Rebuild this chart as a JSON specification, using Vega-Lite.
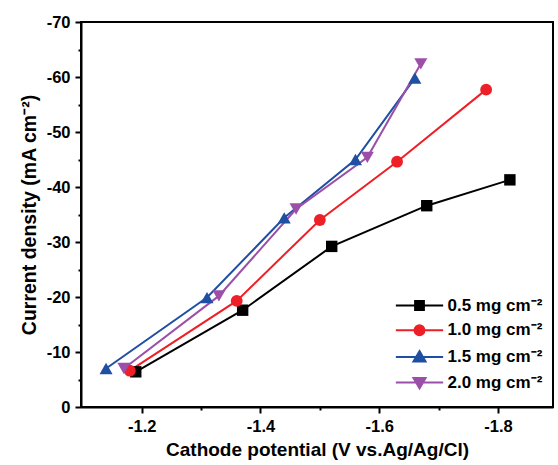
{
  "$schema": "https://vega.github.io/schema/vega-lite/v6.json",
  "width": 472,
  "height": 385,
  "autosize": {"type": "none"},
  "padding": {"left": 81, "top": 22, "right": 5, "bottom": 58},
  "background": "white",
  "config": {
    "view": {"stroke": "black", "strokeWidth": 2},
    "font": "Liberation Sans",
    "axis": {
      "grid": false,
      "domainColor": "black",
      "domainWidth": 2,
      "tickColor": "black",
      "tickWidth": 2,
      "labelColor": "black",
      "labelFont": "Liberation Sans",
      "labelFontSize": 16.5,
      "labelFontWeight": "bold",
      "titleColor": "black",
      "titleFont": "Liberation Sans",
      "titleFontSize": 19,
      "titleFontWeight": "bold"
    }
  },
  "data": {
    "values": [
      {"loading": "0.5 mg cm⁻²", "potential": -1.19, "current": -6.4},
      {"loading": "0.5 mg cm⁻²", "potential": -1.37, "current": -17.6},
      {"loading": "0.5 mg cm⁻²", "potential": -1.52, "current": -29.2},
      {"loading": "0.5 mg cm⁻²", "potential": -1.68, "current": -36.6},
      {"loading": "0.5 mg cm⁻²", "potential": -1.82, "current": -41.3},
      {"loading": "1.0 mg cm⁻²", "potential": -1.18, "current": -6.6},
      {"loading": "1.0 mg cm⁻²", "potential": -1.36, "current": -19.3},
      {"loading": "1.0 mg cm⁻²", "potential": -1.50, "current": -34.0},
      {"loading": "1.0 mg cm⁻²", "potential": -1.63, "current": -44.6},
      {"loading": "1.0 mg cm⁻²", "potential": -1.78, "current": -57.7},
      {"loading": "1.5 mg cm⁻²", "potential": -1.14, "current": -7.0},
      {"loading": "1.5 mg cm⁻²", "potential": -1.31, "current": -19.9},
      {"loading": "1.5 mg cm⁻²", "potential": -1.44, "current": -34.4},
      {"loading": "1.5 mg cm⁻²", "potential": -1.56, "current": -45.0},
      {"loading": "1.5 mg cm⁻²", "potential": -1.66, "current": -59.8},
      {"loading": "2.0 mg cm⁻²", "potential": -1.17, "current": -7.0},
      {"loading": "2.0 mg cm⁻²", "potential": -1.33, "current": -20.2},
      {"loading": "2.0 mg cm⁻²", "potential": -1.46, "current": -36.0},
      {"loading": "2.0 mg cm⁻²", "potential": -1.58, "current": -45.4},
      {"loading": "2.0 mg cm⁻²", "potential": -1.67, "current": -62.4}
    ]
  },
  "encoding": {
    "x": {
      "field": "potential",
      "type": "quantitative",
      "title": "Cathode potential (V vs.Ag/Ag/Cl)",
      "scale": {"domain": [-1.8926, -1.0978], "reverse": true, "nice": false, "zero": false},
      "axis": {
        "values": [-1.2, -1.3, -1.4, -1.5, -1.6, -1.7, -1.8],
        "labelExpr": "round(abs(datum.value)*10) % 2 === 0 ? replace(format(datum.value, '.1f'), '−', '-') : ''",
        "tickSize": {"condition": {"test": "round(abs(datum.value)*10) % 2 === 1", "value": 3}, "value": 6},
        "labelPadding": 5,
        "titlePadding": 6
      }
    },
    "y": {
      "field": "current",
      "type": "quantitative",
      "title": "Current density (mA cm⁻²)",
      "scale": {"domain": [-70, 0], "reverse": true, "nice": false, "zero": false},
      "axis": {
        "values": [0, -5, -10, -15, -20, -25, -30, -35, -40, -45, -50, -55, -60, -65, -70],
        "labelExpr": "datum.value % 10 === 0 ? replace(format(datum.value, 'd'), '−', '-') : ''",
        "tickSize": {"condition": {"test": "datum.value % 10 !== 0", "value": 3}, "value": 6},
        "labelPadding": 5,
        "titleFontSize": 19.5,
        "titlePadding": 7
      }
    },
    "color": {
      "field": "loading",
      "type": "nominal",
      "scale": {
        "domain": ["0.5 mg cm⁻²", "1.0 mg cm⁻²", "1.5 mg cm⁻²", "2.0 mg cm⁻²"],
        "range": ["#000000", "#ee1f26", "#1f4fa3", "#9b4fa8"]
      },
      "legend": {
        "orient": "none",
        "legendX": 330,
        "legendY": 275,
        "title": null,
        "symbolSize": 121,
        "symbolStrokeWidth": 2,
        "labelOffset": 19.5,
        "labelFont": "Liberation Sans",
        "labelFontSize": 17,
        "labelFontWeight": "bold",
        "labelColor": "black",
        "rowPadding": 6.7,
        "encode": {
          "symbols": {
            "update": {
              "shape": {"signal": "['M-4.3,0H4.3M-0.8,-0.8H0.8V0.8H-0.8Z', 'M-4.3,0H4.3M0.9,0A0.9,0.9,0,1,1,-0.9,0A0.9,0.9,0,1,1,0.9,0Z', 'M-4.3,0H4.3M0,-1.05L1.1,0.85H-1.1Z', 'M-4.3,0H4.3M0,1.05L1.1,-0.85H-1.1Z'][indexof(domain('color'), datum.value)]"},
              "fill": {"signal": "scale('color', datum.value)"},
              "stroke": {"signal": "scale('color', datum.value)"},
              "strokeWidth": {"value": 2},
              "opacity": {"value": 1}
            }
          }
        }
      }
    }
  },
  "layer": [
    {"mark": {"type": "line", "strokeWidth": 2}},
    {
      "transform": [{"filter": "datum.loading === '0.5 mg cm⁻²'"}],
      "mark": {"type": "point", "shape": "square", "filled": true, "opacity": 1, "size": 130}
    },
    {
      "transform": [{"filter": "datum.loading === '1.0 mg cm⁻²'"}],
      "mark": {"type": "point", "shape": "circle", "filled": true, "opacity": 1, "size": 140}
    },
    {
      "transform": [{"filter": "datum.loading === '1.5 mg cm⁻²'"}],
      "mark": {"type": "point", "shape": "triangle-up", "filled": true, "opacity": 1, "size": 170}
    },
    {
      "transform": [{"filter": "datum.loading === '2.0 mg cm⁻²'"}],
      "mark": {"type": "point", "shape": "triangle-down", "filled": true, "opacity": 1, "size": 170}
    }
  ]
}
